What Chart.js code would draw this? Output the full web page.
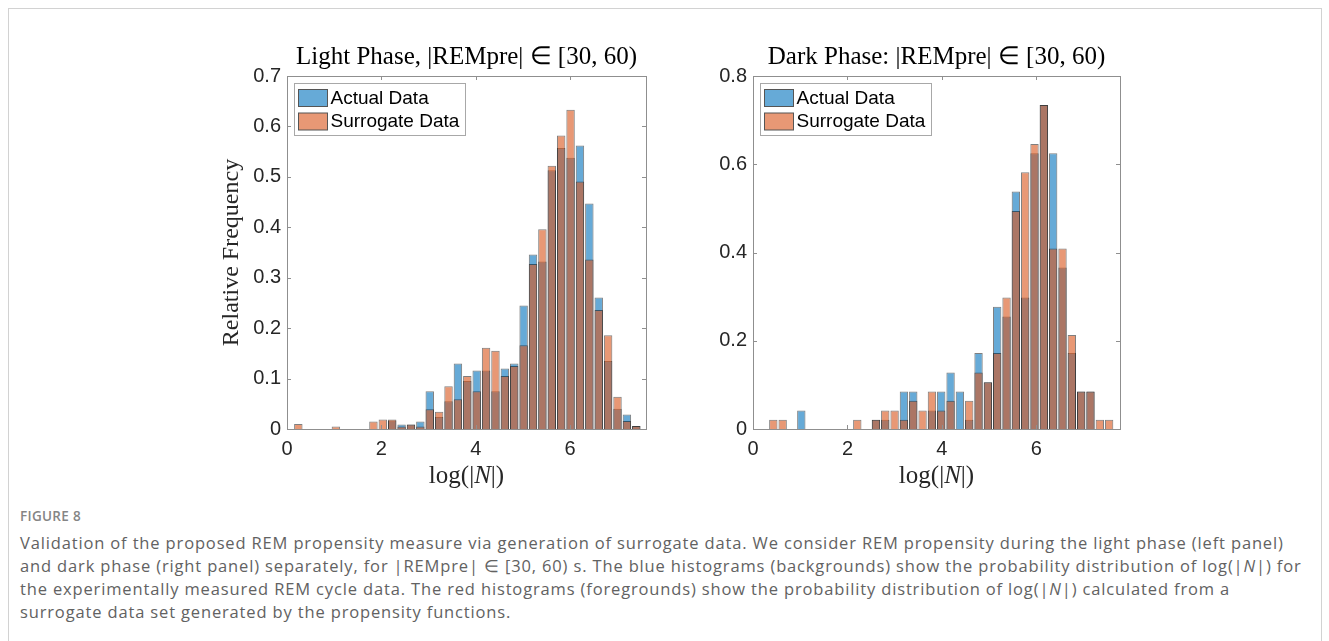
<!DOCTYPE html>
<html lang="en">
<head>
<meta charset="UTF-8">
<title>Figure 8 - REM propensity surrogate validation</title>
<style>
body {
    margin: 0;
    background: #fff;
}

.figure {
    position: relative;
    width: 1329px;
    height: 641px;
    overflow: hidden;
}

.frame {
    position: absolute;
    left: 8px;
    top: 8px;
    width: 1312px;
    height: 700px;
    border: 1px solid #d2d2d2;
}

.panel {
    position: absolute;
    top: 40px;
}

#lightPanel { left: 200px; }
#darkPanel { left: 670px; }

.fig-label {
    position: absolute;
    left: 20px;
    top: 507px;
    font-family: 'Open Sans', sans-serif;
    font-size: 13.5px;
    font-weight: 600;
    color: #858585;
    letter-spacing: 0.3px;
}

.caption {
    position: absolute;
    left: 20px;
    top: 531px;
    margin: 0;
    font-family: 'Open Sans', sans-serif;
    font-size: 16.5px;
    line-height: 23px;
    letter-spacing: 0.85px;
    color: #626262;
    white-space: nowrap;
}
</style>
<script src="https://cdn.jsdelivr.net/npm/chart.js"></script>
</head>
<body>
<div class="figure">
    <div class="frame"></div>
    <div class="panel" id="lightPanel"><canvas id="lightChart" width="460" height="460"></canvas></div>
    <div class="panel" id="darkPanel"><canvas id="darkChart" width="460" height="460"></canvas></div>
    <div class="fig-label">FIGURE 8</div>
    <p class="caption">Validation of the proposed REM propensity measure via generation of surrogate data. We consider REM propensity during the light phase (left panel)<br>and dark phase (right panel) separately, for |REMpre| &isin; [30, 60) s. The blue histograms (backgrounds) show the probability distribution of log(|<i>N</i>|) for<br>the experimentally measured REM cycle data. The red histograms (foregrounds) show the probability distribution of log(|<i>N</i>|) calculated from a<br>surrogate data set generated by the propensity functions.</p>
</div>

<script>
// bin centres of log(|N|), light phase
const lightBins = [0.240, 0.439, 0.638, 0.837, 1.036, 1.235, 1.434, 1.633, 1.832, 2.031,
    2.230, 2.429, 2.628, 2.827, 3.026, 3.225, 3.424, 3.623, 3.822, 4.021,
    4.220, 4.419, 4.618, 4.817, 5.016, 5.215, 5.414, 5.613, 5.812, 6.011,
    6.210, 6.409, 6.608, 6.807, 7.006, 7.205, 7.404];
const lightActual = [0, 0, 0, 0, 0, 0, 0, 0, 0, 0,
    0.017, 0.009, 0.009, 0.015, 0.075, 0.024, 0.055, 0.130, 0.095, 0.116,
    0.116, 0.075, 0.120, 0.130, 0.245, 0.346, 0.332, 0.513, 0.557, 0.538,
    0.562, 0.447, 0.261, 0.135, 0.040, 0.029, 0.006];
const lightSurrogate = [0.010, 0, 0, 0, 0.005, 0, 0, 0, 0.015, 0.019,
    0.019, 0.005, 0.009, 0.005, 0.039, 0.034, 0.085, 0.059, 0.105, 0.075,
    0.161, 0.155, 0.105, 0.125, 0.166, 0.327, 0.396, 0.522, 0.582, 0.633,
    0.491, 0.336, 0.236, 0.186, 0.064, 0.016, 0.006];

// bin centres of log(|N|), dark phase
const darkBins = [0.430, 0.628, 0.825, 1.023, 1.220, 1.418, 1.615, 1.813, 2.010, 2.208,
    2.405, 2.603, 2.800, 2.998, 3.195, 3.393, 3.590, 3.788, 3.985, 4.183,
    4.380, 4.578, 4.775, 4.973, 5.170, 5.368, 5.565, 5.763, 5.960, 6.158,
    6.355, 6.553, 6.750, 6.948, 7.145, 7.343, 7.540];
const darkActual = [0, 0, 0, 0.042, 0, 0, 0, 0, 0, 0,
    0, 0.021, 0.021, 0, 0.085, 0.085, 0, 0.042, 0.085, 0.128,
    0.085, 0.021, 0.172, 0.106, 0.277, 0.255, 0.538, 0.298, 0.625, 0.734,
    0.625, 0.366, 0.172, 0.085, 0.085, 0, 0];
const darkSurrogate = [0.021, 0.021, 0, 0, 0, 0, 0, 0, 0, 0.021,
    0, 0.021, 0.042, 0.042, 0.021, 0.064, 0.042, 0.085, 0.042, 0.064,
    0, 0.064, 0.128, 0.106, 0.172, 0.298, 0.494, 0.582, 0.646, 0.734,
    0.409, 0.409, 0.213, 0.085, 0.085, 0.021, 0.021];

const xTicks = [0, 2, 4, 6];
const lightYTicks = [0, 0.1, 0.2, 0.3, 0.4, 0.5, 0.6, 0.7];
const darkYTicks = [0, 0.2, 0.4, 0.6, 0.8];
const seriesNames = ["Actual Data", "Surrogate Data"];

// MATLAB default face colours at FaceAlpha 0.6
const actualFill = "rgba(0, 114, 189, 0.6)";
const surrogateFill = "rgba(217, 83, 25, 0.6)";
const edgeColor = "rgba(0, 0, 0, 0.5)";
const axisInk = "#262626";
const sansFont = "'Liberation Sans', Arial, sans-serif";
const serifFont = "'Liberation Serif', 'Times New Roman', serif";

// box around the axes with inward tick marks on all four sides
const matlabBox = {
    id: "matlabBox",
    afterDraw(chart) {
        const { ctx, chartArea: a, scales: { x, y } } = chart;
        const len = 4;
        ctx.save();
        ctx.strokeStyle = "#8f8f8f";
        ctx.lineWidth = 1;
        ctx.beginPath();
        x.ticks.forEach(t => {
            const px = Math.round(x.getPixelForValue(t.value)) + 0.5;
            ctx.moveTo(px, a.bottom); ctx.lineTo(px, a.bottom - len);
            ctx.moveTo(px, a.top); ctx.lineTo(px, a.top + len);
        });
        y.ticks.forEach(t => {
            const py = Math.round(y.getPixelForValue(t.value)) + 0.5;
            ctx.moveTo(a.left, py); ctx.lineTo(a.left + len, py);
            ctx.moveTo(a.right, py); ctx.lineTo(a.right - len, py);
        });
        ctx.stroke();
        ctx.strokeRect(Math.round(a.left) + 0.5, Math.round(a.top) + 0.5,
            Math.round(a.right - a.left), Math.round(a.bottom - a.top));
        ctx.restore();
    }
};

// legend box drawn in the upper left corner of the plot
const boxLegend = {
    id: "boxLegend",
    afterDraw(chart) {
        const { ctx, chartArea: a } = chart;
        const sets = chart.data.datasets;
        ctx.save();
        ctx.font = "19px " + sansFont;
        const textW = Math.max(...sets.map(d => ctx.measureText(d.label).width));
        const x0 = Math.round(a.left) + 7.5, y0 = Math.round(a.top) + 7.5;
        const w = Math.round(4 + 29 + 3 + textW + 6), h = 52;
        ctx.fillStyle = "#fff";
        ctx.fillRect(x0, y0, w, h);
        ctx.strokeStyle = "#a8a8a8";
        ctx.lineWidth = 1;
        ctx.strokeRect(x0, y0, w, h);
        sets.forEach((d, i) => {
            const cy = y0 + 14 + i * 23.5;
            ctx.fillStyle = d.backgroundColor;
            ctx.fillRect(x0 + 4, cy - 8, 29, 17);
            ctx.strokeStyle = "#555";
            ctx.strokeRect(x0 + 4, cy - 8, 29, 17);
            ctx.fillStyle = "#000";
            ctx.textBaseline = "middle";
            ctx.fillText(d.label, x0 + 36, cy + 1);
        });
        ctx.restore();
    }
};

// x axis label log(|N|) with an italic N
const xLabel = {
    id: "xLabel",
    afterDraw(chart) {
        const { ctx, chartArea: a } = chart;
        const parts = [["log(|", "normal"], ["N", "italic"], ["|)", "normal"]];
        const fontFor = style => style + " 25px " + serifFont;
        ctx.save();
        ctx.fillStyle = axisInk;
        ctx.textBaseline = "middle";
        const widths = parts.map(([t, s]) => { ctx.font = fontFor(s); return ctx.measureText(t).width; });
        let x = (a.left + a.right) / 2 - widths.reduce((p, c) => p + c, 0) / 2;
        parts.forEach(([t, s], i) => {
            ctx.font = fontFor(s);
            ctx.fillText(t, x, a.bottom + 47);
            x += widths[i];
        });
        ctx.restore();
    }
};

function histogramPanel(canvasId, bins, actual, surrogate, opts) {
    const points = vals => bins.map((b, i) => ({ x: b, y: vals[i] }));
    return new Chart(document.getElementById(canvasId), {
        type: "bar",
        data: {
            datasets: [
                { label: seriesNames[0], data: points(actual), backgroundColor: actualFill, order: 2 },
                { label: seriesNames[1], data: points(surrogate), backgroundColor: surrogateFill, order: 1 }
            ]
        },
        options: {
            responsive: false,
            animation: false,
            devicePixelRatio: 1,
            layout: { padding: { right: opts.padRight } },
            datasets: {
                bar: {
                    grouped: false,
                    barPercentage: 0.9,
                    categoryPercentage: 1,
                    borderColor: edgeColor,
                    borderWidth: c => (c.raw && c.raw.y > 0 ? 1 : 0)
                }
            },
            plugins: {
                legend: { display: false },
                tooltip: { enabled: false },
                title: {
                    display: true,
                    text: opts.title,
                    fullSize: false,
                    color: "#000",
                    font: { family: serifFont, size: 25, weight: "normal" },
                    padding: { top: 2, bottom: 4 }
                }
            },
            scales: {
                x: {
                    type: "linear",
                    min: 0,
                    max: opts.xMax,
                    offset: false,
                    grid: { display: false, drawTicks: false },
                    border: { display: false },
                    ticks: {
                        color: axisInk,
                        font: { family: sansFont, size: 20 },
                        padding: 8,
                        maxRotation: 0,
                        callback: v => String(v)
                    },
                    afterBuildTicks: s => { s.ticks = xTicks.map(v => ({ value: v })); },
                    afterFit: s => { s.height = 71; }
                },
                y: {
                    min: 0,
                    max: opts.yMax,
                    grid: { display: false, drawTicks: false },
                    border: { display: false },
                    ticks: {
                        color: axisInk,
                        font: { family: sansFont, size: 20 },
                        padding: 6,
                        callback: v => String(v)
                    },
                    title: {
                        display: !!opts.yTitle,
                        text: opts.yTitle || "",
                        color: axisInk,
                        font: { family: serifFont, size: 24 },
                        padding: { top: 17, bottom: 0 }
                    },
                    afterBuildTicks: s => { s.ticks = opts.yTicks.map(v => ({ value: v })); },
                    afterFit: s => { s.width = opts.yWidth; }
                }
            }
        },
        plugins: [matlabBox, boxLegend, xLabel]
    });
}

histogramPanel("lightChart", lightBins, lightActual, lightSurrogate, {
    title: "Light Phase, |REMpre| \u2208 [30, 60)",
    yTitle: "Relative Frequency",
    yTicks: lightYTicks,
    yMax: 0.7,
    xMax: 7.61,
    yWidth: 87,
    padRight: 14
});

histogramPanel("darkChart", darkBins, darkActual, darkSurrogate, {
    title: "Dark Phase: |REMpre| \u2208 [30, 60)",
    yTicks: darkYTicks,
    yMax: 0.8,
    xMax: 7.77,
    yWidth: 83,
    padRight: 10
});
</script>
</body>
</html>
